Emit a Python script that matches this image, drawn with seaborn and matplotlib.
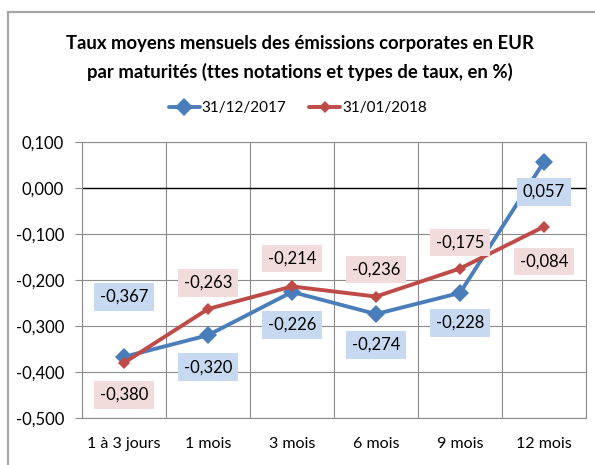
import matplotlib
matplotlib.use("Agg")
import matplotlib.pyplot as plt
from matplotlib.patches import Rectangle
import seaborn as sns
import pandas as pd

categories = ["1 à 3 jours", "1 mois", "3 mois", "6 mois", "9 mois", "12 mois"]
dec_2017 = [-0.367, -0.320, -0.226, -0.274, -0.228, 0.057]
jan_2018 = [-0.380, -0.263, -0.214, -0.236, -0.175, -0.084]
series_names = ["31/12/2017", "31/01/2018"]
y_ticks = [0.1, 0.0, -0.1, -0.2, -0.3, -0.4, -0.5]

sns.set_style("white")
FONT = ["Lato", "DejaVu Sans"]
plt.rcParams["font.family"] = FONT
plt.rcParams["text.color"] = "black"
plt.rcParams["xtick.color"] = "black"
plt.rcParams["ytick.color"] = "black"
plt.rcParams["xtick.labelcolor"] = "black"
plt.rcParams["ytick.labelcolor"] = "black"

fig = plt.figure(figsize=(5.95, 4.65), dpi=100)
fig.patches.append(Rectangle((8 / 595, -0.1), 1, 1.1 - 12 / 465, transform=fig.transFigure,
                             fill=False, edgecolor="#a6a6a6", linewidth=1.6))
ax = fig.add_axes([82 / 595, 1 - 418 / 465, 504 / 595, 276 / 465])

df = pd.DataFrame({
    "cat": categories * 2,
    "val": dec_2017 + jan_2018,
    "serie": [series_names[0]] * 6 + [series_names[1]] * 6,
})
blue, red = "#4a7ebb", "#be4b48"
sns.lineplot(data=df[df.serie == series_names[0]], x="cat", y="val", color=blue,
             marker="D", markersize=9, linewidth=2.8, markeredgewidth=0, ax=ax,
             label=series_names[0], sort=False)
sns.lineplot(data=df[df.serie == series_names[1]], x="cat", y="val", color=red,
             marker="D", markersize=6.5, linewidth=2.8, markeredgewidth=0, ax=ax,
             label=series_names[1], sort=False)

ax.set_xlim(-0.5, 5.5)
ax.set_ylim(-0.5, 0.1)
ax.set_yticks(y_ticks)
ax.set_yticklabels([f"{v:.3f}".replace(".", ",") for v in y_ticks], fontsize=12)
ax.set_xticks(range(6))
ax.set_xticklabels(categories, fontsize=11.5)
ax.set_xticks([i + 0.5 for i in range(-1, 6)], minor=True)
ax.grid(True, which="minor", axis="x", color="#8c8c8c", linewidth=0.8)
ax.grid(True, which="major", axis="y", color="#8c8c8c", linewidth=0.8)
ax.axhline(0, color="black", linewidth=1.0, zorder=1.5)
ax.tick_params(axis="x", which="both", length=0, pad=14)
ax.tick_params(axis="y", which="major", length=5, color="#8c8c8c", pad=8, left=True)
ax.set_xlabel("")
ax.set_ylabel("")
for s in ax.spines.values():
    s.set_color("#8c8c8c")
    s.set_linewidth(0.8)

# label offsets in pixels (dx, dy) -> converted to points
off_blue = [(0, 60), (0, -32), (0, -33), (0, -31), (0, -30), (0, -30)]
off_red = [(0, -32), (0, 26), (0, 28), (0, 27), (0, 26), (0, -35)]
px = 72 / 100
for vals, offs, fc in [(dec_2017, off_blue, "#c6d9f1"), (jan_2018, off_red, "#f2dcdb")]:
    for i, (v, (dx, dy)) in enumerate(zip(vals, offs)):
        ax.annotate(f"{v:.3f}".replace(".", ","), (i, v), xytext=(dx * px, dy * px),
                    textcoords="offset points", ha="center", va="center", fontsize=12,
                    bbox=dict(boxstyle="square,pad=0.35", fc=fc, ec="none"), zorder=5)

leg = ax.legend(loc="center", bbox_to_anchor=(298 / 595, 1 - 108 / 465),
                bbox_transform=fig.transFigure, ncol=2, frameon=False, fontsize=11,
                handlelength=2.0, handletextpad=0.15, columnspacing=1.5)

fig.text(300 / 595, 1 - 44 / 465, "Taux moyens mensuels des émissions corporates en EUR",
         ha="center", va="center", fontsize=13.3, fontweight="bold")
fig.text(300 / 595, 1 - 72 / 465, "par maturités (ttes notations et types de taux, en %)",
         ha="center", va="center", fontsize=13.3, fontweight="bold")

fig.savefig("out.png", dpi=100)
